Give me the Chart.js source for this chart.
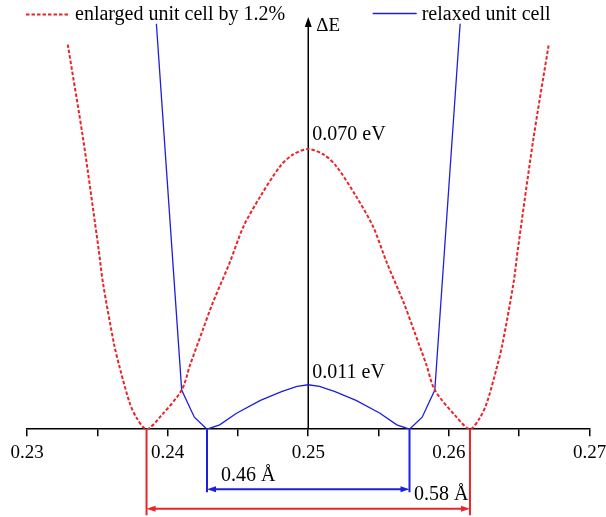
<!DOCTYPE html>
<html>
<head>
<meta charset="utf-8">
<script src="https://cdn.jsdelivr.net/npm/chart.js@4/dist/chart.umd.min.js"></script>
<style>
  html, body { margin: 0; padding: 0; background: #fff; }
  #wrap { width: 606px; height: 517px; position: relative; }
</style>
</head>
<body>
<div id="wrap"><canvas id="c"></canvas></div>
<script>
// ---- data ----
const seriesNames = ['enlarged unit cell by 1.2%', 'relaxed unit cell'];

const redX = [0.2329, 0.2340, 0.2351, 0.2354, 0.2362, 0.2366, 0.2373, 0.2378, 0.2385, 0.2395,
              0.2410, 0.2416, 0.2425, 0.2432, 0.2444, 0.2454, 0.2466, 0.2480, 0.2489, 0.2500,
              0.2511, 0.2520, 0.2534, 0.2546, 0.2556, 0.2568, 0.2575, 0.2584, 0.2590, 0.2605,
              0.2615, 0.2622, 0.2627, 0.2634, 0.2638, 0.2646, 0.2649, 0.2660, 0.2671];
const redY = [0.0961, 0.0723, 0.0448, 0.0366, 0.0211, 0.0153, 0.0066, 0.0028, 0.0000, 0.0032,
              0.0098, 0.0161, 0.0248, 0.0315, 0.0415, 0.0507, 0.0582, 0.0657, 0.0686, 0.0700,
              0.0686, 0.0657, 0.0582, 0.0507, 0.0415, 0.0315, 0.0248, 0.0161, 0.0098, 0.0032,
              0.0000, 0.0028, 0.0066, 0.0153, 0.0211, 0.0366, 0.0448, 0.0723, 0.0961];

const blueX = [0.2392, 0.2410, 0.2419, 0.2428, 0.2437, 0.2449, 0.2466, 0.2481, 0.2492, 0.2500,
               0.2508, 0.2519, 0.2534, 0.2551, 0.2563, 0.2572, 0.2581, 0.2590, 0.2608];
const blueY = [0.1013, 0.0098, 0.0030, 0.0000, 0.0011, 0.0040, 0.0072, 0.0094, 0.0107, 0.0111,
               0.0107, 0.0094, 0.0072, 0.0040, 0.0011, 0.0000, 0.0030, 0.0098, 0.1013];

const tickValues = [0.23, 0.24, 0.25, 0.26, 0.27];
const tickLabels = ['0.23', '0.24', '0.25', '0.26', '0.27'];

const axisX = 0.25;
const axisLabel = 'ΔE';
const barrierValues = [0.070, 0.011];
const barrierLabels = ['0.070 eV', '0.011 eV'];
const redMinima = [0.2385, 0.2615];
const blueMinima = [0.2428, 0.2572];
const distanceLabels = ['0.46 Å', '0.58 Å'];

// ---- styling ----
const RED = 'rgb(235,35,42)';
const BLUE = 'rgb(30,30,222)';
const FONT = "'Liberation Serif', 'Times New Roman', serif";

function arrowHead(ctx, tipX, tipY, dirX, dirY, len, half, color) {
  const bx = tipX - dirX * len, by = tipY - dirY * len;
  const px = -dirY, py = dirX;
  ctx.save();
  ctx.fillStyle = color;
  ctx.beginPath();
  ctx.moveTo(tipX, tipY);
  ctx.lineTo(bx + px * half, by + py * half);
  ctx.lineTo(bx - px * half, by - py * half);
  ctx.closePath();
  ctx.fill();
  ctx.restore();
}

const overlay = {
  id: 'overlay',
  beforeDatasetsDraw(chart) {
    const ctx = chart.ctx, xs = chart.scales.x, ys = chart.scales.y;
    const ax = xs.getPixelForValue(axisX);
    const y0 = ys.getPixelForValue(0);
    const top = ys.getPixelForValue(ys.max);
    ctx.save();
    ctx.strokeStyle = '#000';
    ctx.lineWidth = 1.5;
    ctx.beginPath();
    ctx.moveTo(ax, y0);
    ctx.lineTo(ax, top + 8);
    ctx.stroke();
    ctx.restore();
    arrowHead(ctx, ax, top, 0, -1, 10, 3.5, '#000');
  },
  afterDatasetsDraw(chart) {
    const ctx = chart.ctx, xs = chart.scales.x, ys = chart.scales.y;
    const ax = xs.getPixelForValue(axisX);
    const y0 = ys.getPixelForValue(0);
    const top = ys.getPixelForValue(ys.max);
    ctx.save();
    ctx.fillStyle = '#000';
    ctx.textBaseline = 'alphabetic';
    ctx.textAlign = 'left';
    ctx.font = '19px ' + FONT;
    ctx.fillText(axisLabel, ax + 8, top + 14);
    ctx.font = '20px ' + FONT;
    ctx.fillText(barrierLabels[0], ax + 4, ys.getPixelForValue(barrierValues[0]) - 9);
    ctx.fillText(barrierLabels[1], ax + 4, ys.getPixelForValue(barrierValues[1]) - 7);

    // blue distance annotation
    const b1 = xs.getPixelForValue(blueMinima[0]), b2 = xs.getPixelForValue(blueMinima[1]);
    const by = y0 + 60;
    ctx.strokeStyle = BLUE; ctx.lineWidth = 2;
    ctx.beginPath();
    ctx.moveTo(b1, y0); ctx.lineTo(b1, y0 + 63);
    ctx.moveTo(b2, y0); ctx.lineTo(b2, y0 + 63);
    ctx.moveTo(b1 + 6, by); ctx.lineTo(b2 - 6, by);
    ctx.stroke();
    arrowHead(ctx, b1, by, -1, 0, 9, 3, BLUE);
    arrowHead(ctx, b2, by, 1, 0, 9, 3, BLUE);

    // red distance annotation
    const r1 = xs.getPixelForValue(redMinima[0]), r2 = xs.getPixelForValue(redMinima[1]);
    const ry = y0 + 79.5;
    ctx.strokeStyle = RED; ctx.lineWidth = 2;
    ctx.beginPath();
    ctx.moveTo(r1, y0); ctx.lineTo(r1, y0 + 86);
    ctx.moveTo(r2, y0); ctx.lineTo(r2, y0 + 86);
    ctx.moveTo(r1 + 6, ry); ctx.lineTo(r2 - 6, ry);
    ctx.stroke();
    arrowHead(ctx, r1, ry, -1, 0, 9, 3, RED);
    arrowHead(ctx, r2, ry, 1, 0, 9, 3, RED);

    ctx.fillStyle = '#000';
    ctx.font = '20px ' + FONT;
    ctx.fillText(distanceLabels[0], b1 + 14, y0 + 52);
    ctx.fillText(distanceLabels[1], b2 + 4.5, y0 + 70.5);

    // legend
    ctx.lineWidth = 2; ctx.strokeStyle = RED; ctx.setLineDash([3.5, 2]);
    ctx.beginPath(); ctx.moveTo(26, 14.5); ctx.lineTo(69.5, 14.5); ctx.stroke();
    ctx.setLineDash([]);
    ctx.lineWidth = 1.3; ctx.strokeStyle = BLUE;
    ctx.beginPath(); ctx.moveTo(372.7, 13.5); ctx.lineTo(416.7, 13.5); ctx.stroke();
    ctx.fillStyle = '#000';
    ctx.fillText(seriesNames[0], 75, 19.5);
    ctx.fillText(seriesNames[1], 421.7, 19.5);
    ctx.restore();
  }
};

const redData = redX.map((x, i) => ({ x: x, y: redY[i] }));
const blueData = blueX.map((x, i) => ({ x: x, y: blueY[i] }));

new Chart(document.getElementById('c'), {
  type: 'line',
  data: {
    datasets: [
      { label: seriesNames[0], data: redData, borderColor: RED, borderWidth: 2,
        borderDash: [3.5, 2], pointRadius: 0, tension: 0.3, fill: false },
      { label: seriesNames[1], data: blueData, borderColor: BLUE, borderWidth: 1.3,
        pointRadius: 0, tension: 0, fill: false }
    ]
  },
  options: {
    responsive: true,
    maintainAspectRatio: false,
    animation: false,
    devicePixelRatio: 1,
    layout: { padding: { left: 27, right: 16.5, top: 17, bottom: 48 } },
    plugins: { legend: { display: false }, tooltip: { enabled: false } },
    scales: {
      x: {
        type: 'linear', min: 0.23, max: 0.27,
        afterFit: (scale) => { scale.paddingLeft = 0; scale.paddingRight = 0; },
        ticks: {
          stepSize: 0.005, autoSkip: false, maxRotation: 0, minRotation: 0,
          color: '#000', padding: 5,
          font: { family: FONT, size: 19 },
          callback: (v) => {
            const i = tickValues.findIndex(t => Math.abs(t - v) < 1e-6);
            return i >= 0 ? tickLabels[i] : '';
          }
        },
        grid: { drawOnChartArea: false, drawTicks: true, tickLength: 7, color: '#000', lineWidth: 1.5 },
        border: { display: true, color: '#000', width: 1.5 }
      },
      y: { type: 'linear', display: false, min: 0, max: 0.103 }
    }
  },
  plugins: [overlay]
});
</script>
</body>
</html>
